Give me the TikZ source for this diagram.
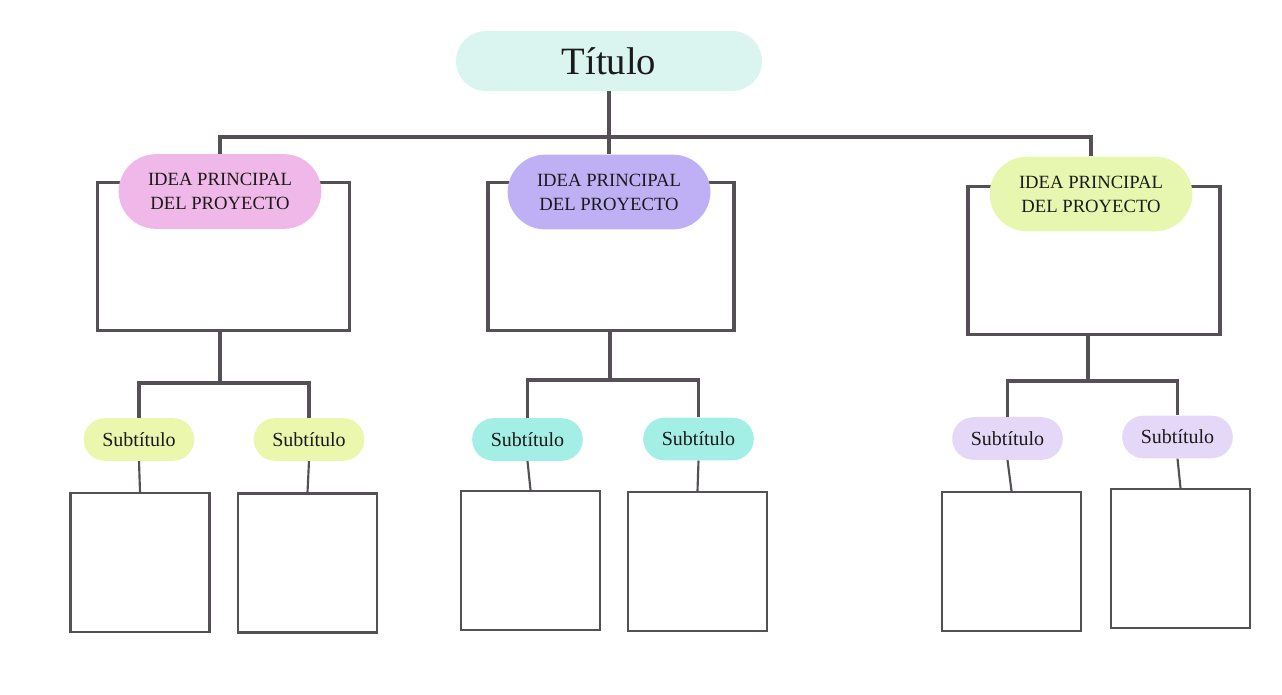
\documentclass[tikz,border=0pt]{standalone}
\usepackage{fontspec}
\setmainfont{Liberation Serif}
\usetikzlibrary{shapes.misc}

\definecolor{linegray}{HTML}{555055}
\definecolor{textcol}{HTML}{1A1A1A}
\definecolor{titlecol}{HTML}{DAF5F0}
\definecolor{pinkcol}{HTML}{F0B8E8}
\definecolor{violetcol}{HTML}{BFB0F5}
\definecolor{limecol}{HTML}{E8F7B0}
\definecolor{sublime}{HTML}{ECF7AE}
\definecolor{subteal}{HTML}{A3EEE5}
\definecolor{sublilac}{HTML}{E5D7F7}

\tikzset{
  pill/.style={rounded rectangle, draw=none, fill=#1, text=textcol, inner sep=0pt},
  titlepill/.style={pill=titlecol, minimum width=229.5pt, minimum height=45pt,
    font=\fontsize{29}{32}\selectfont},
  idea/.style={pill=#1, minimum width=152pt, minimum height=56pt, align=center,
    font=\fontsize{14}{18}\selectfont},
  subpill/.style={pill=#1, minimum width=83pt, minimum height=32pt,
    font=\fontsize{15}{18}\selectfont},
  bigbox/.style={draw=linegray, line width=2.4pt, fill=white, inner sep=0pt,
    minimum width=#1, minimum height=111pt},
  smallbox/.style={draw=linegray, line width=1.9pt, fill=white, inner sep=0pt,
    minimum width=104pt, minimum height=104pt},
  link/.style={draw=linegray, line width=2.4pt}
}

\begin{document}
\begin{tikzpicture}[x=0.75pt, y=-0.75pt]
  \useasboundingbox (0,0) rectangle (1282,694);
  % title and main ideas
  \node[titlepill] (T) at (609,61) {Título};
  \node[bigbox=189pt] (R1) at (223.5,256.5) {};
  \node[bigbox=184.5pt] (R2) at (611,256.5) {};
  \node[bigbox=189pt] (R3) at (1094,260.5) {};
  \node[idea=pinkcol] (I1) at (220,191.5) {IDEA PRINCIPAL\\DEL PROYECTO};
  \node[idea=violetcol] (I2) at (609,192) {IDEA PRINCIPAL\\DEL PROYECTO};
  \node[idea=limecol] (I3) at (1091,194) {IDEA PRINCIPAL\\DEL PROYECTO};
  % subtitles
  \node[subpill=sublime] (S11) at (139,439.5) {Subtítulo};
  \node[subpill=sublime] (S12) at (309,439.5) {Subtítulo};
  \node[subpill=subteal] (S21) at (527.5,439.5) {Subtítulo};
  \node[subpill=subteal] (S22) at (698.5,439) {Subtítulo};
  \node[subpill=sublilac] (S31) at (1007.5,438.5) {Subtítulo};
  \node[subpill=sublilac] (S32) at (1177.5,437) {Subtítulo};
  % empty boxes
  \node[smallbox] (B11) at (140,562.5) {};
  \node[smallbox] (B12) at (307.5,563) {};
  \node[smallbox] (B21) at (530.5,560.5) {};
  \node[smallbox] (B22) at (697.5,561.5) {};
  \node[smallbox] (B31) at (1011.5,561.5) {};
  \node[smallbox] (B32) at (1180.5,558.5) {};
  % junctions
  \coordinate (J) at (610,137);
  \coordinate (K1) at (220,383);
  \coordinate (K2) at (610,380);
  \coordinate (K3) at (1088,381);
  \draw[link, line width=3pt] (T.south) -- (I2.north);
  \draw[link] (I1.north) |- (J) -| (I3.north);
  \foreach \k in {1,2,3}
  {\draw[link] (K\k |- R\k.south) -- (K\k);
  \draw[link] (S\k1.north) |- (K\k) -| (S\k2.north);
  \draw[link, line width=1.6pt] (S\k1.south) -- (B\k1.north);
  \draw[link, line width=1.6pt] (S\k2.south) -- (B\k2.north);}
\end{tikzpicture}
\end{document}
